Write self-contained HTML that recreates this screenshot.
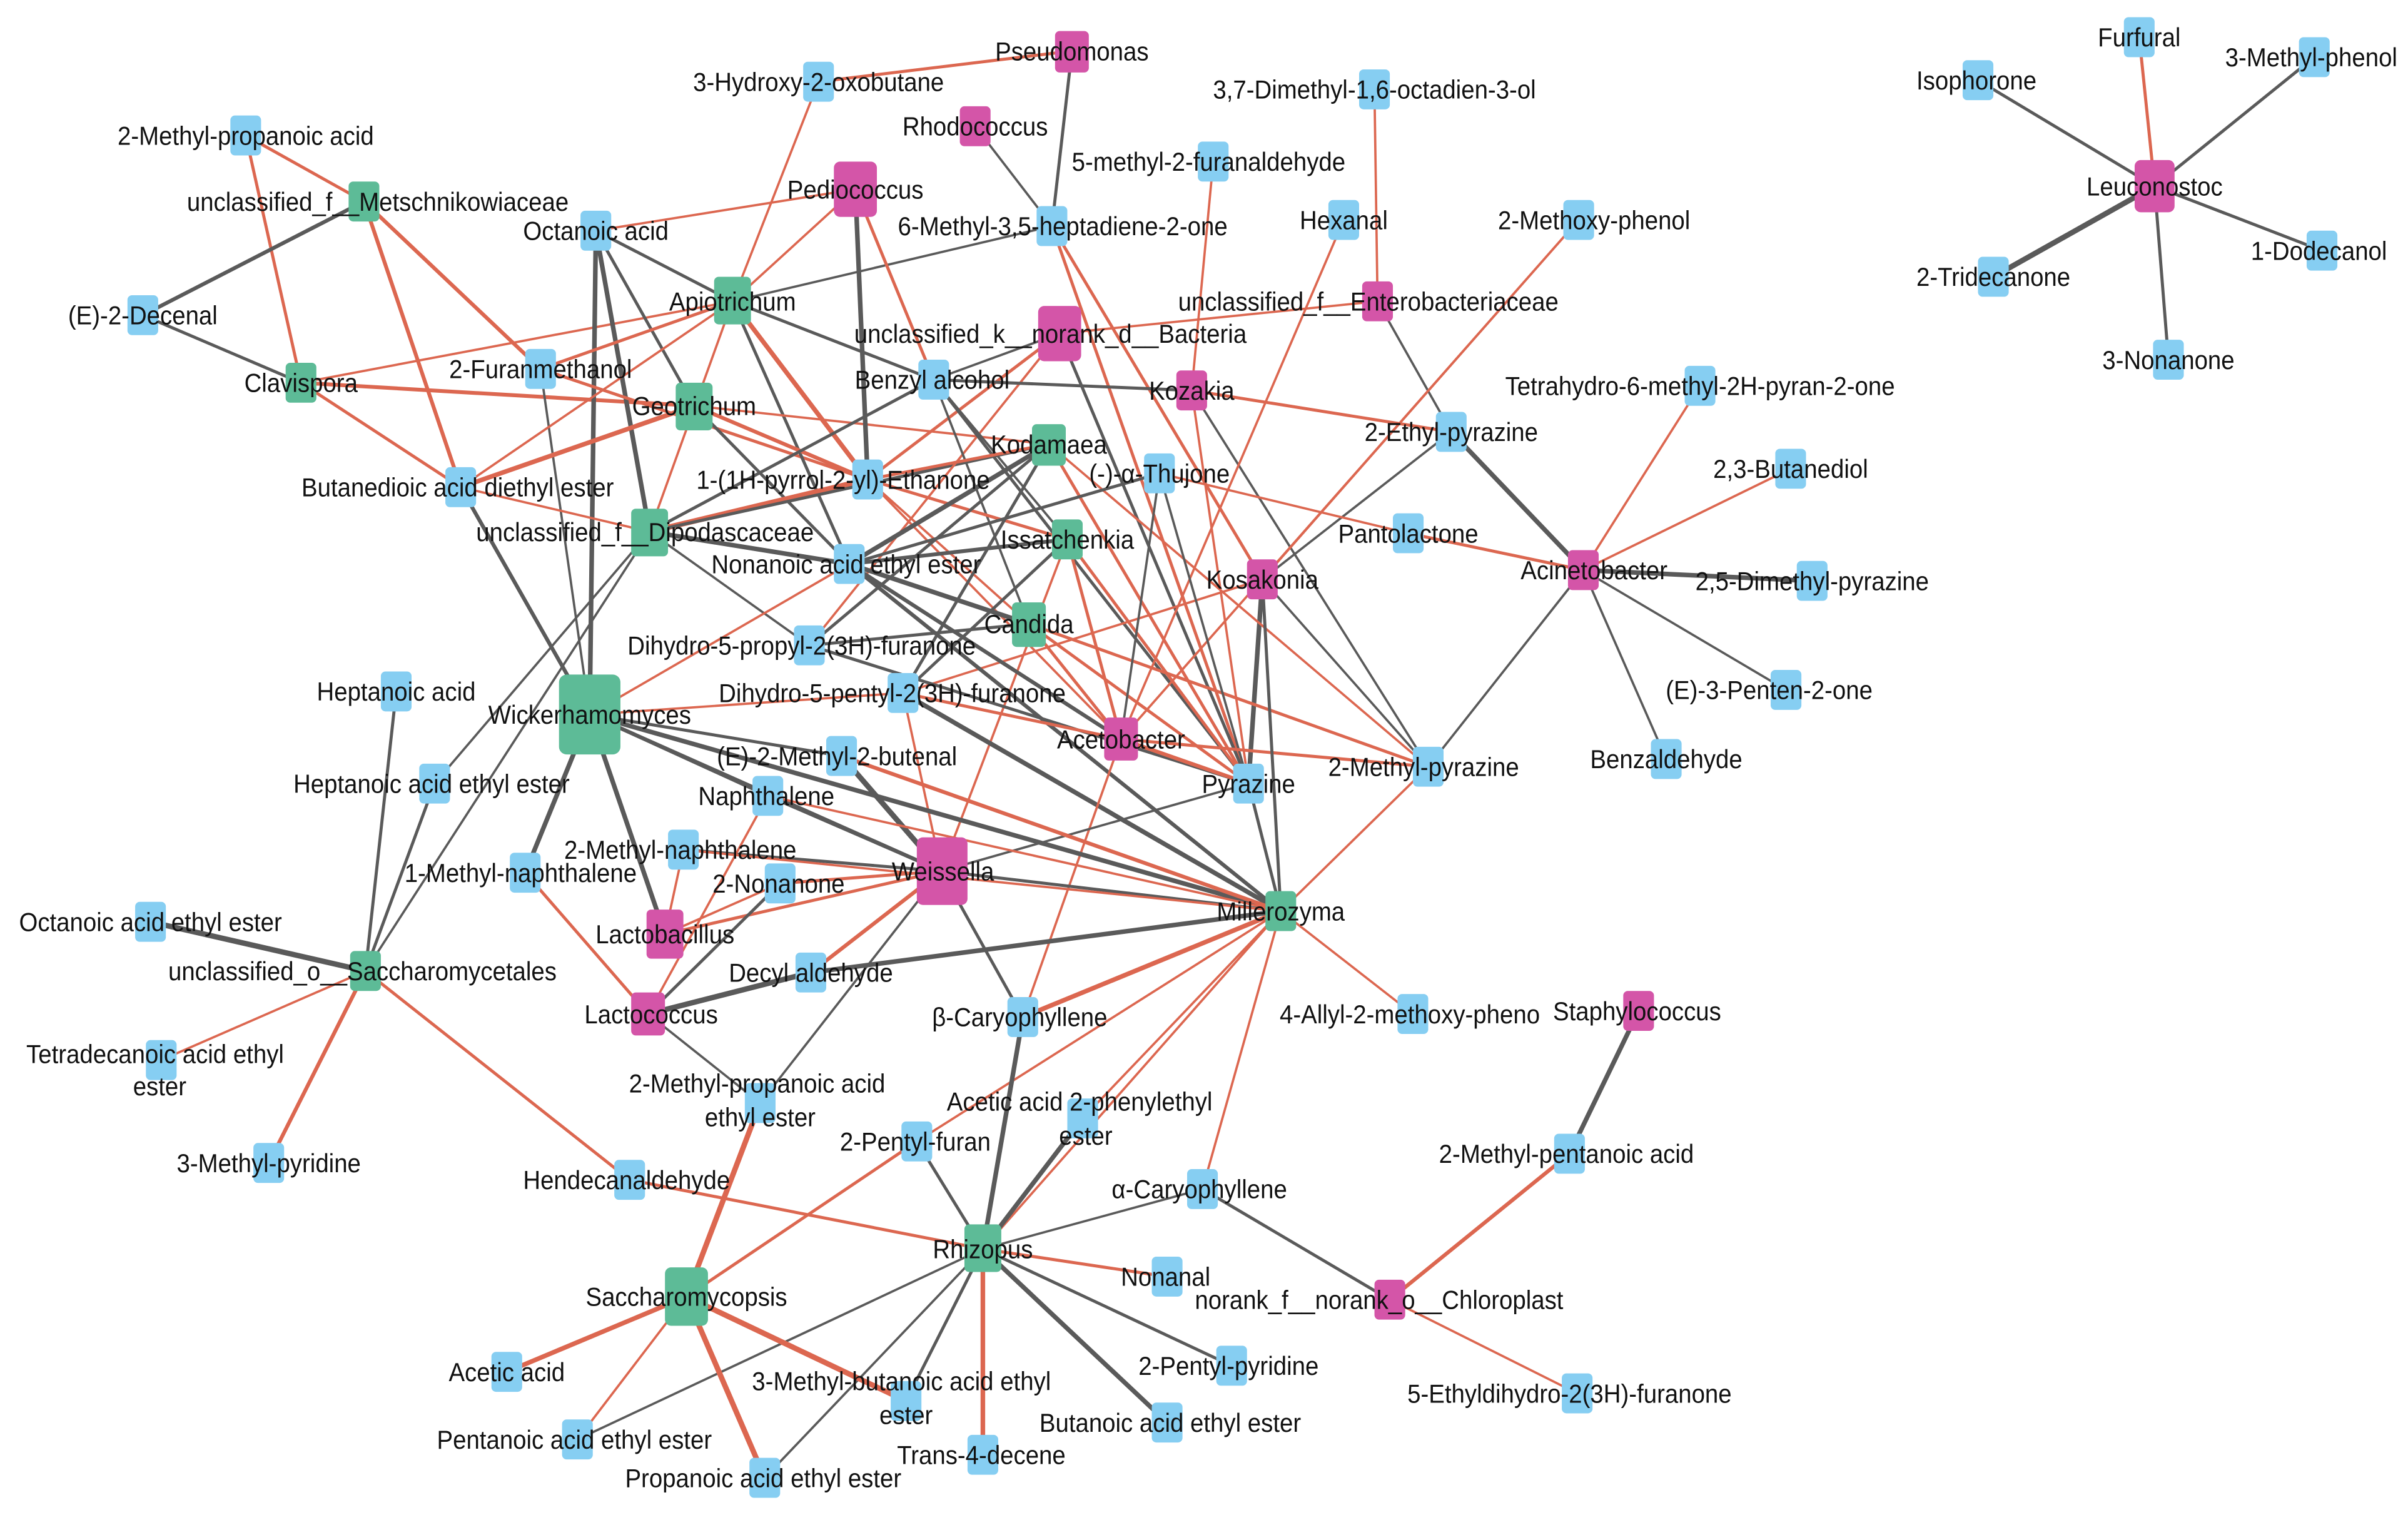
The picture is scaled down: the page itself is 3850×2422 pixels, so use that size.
<!DOCTYPE html>
<html><head><meta charset="utf-8"><style>
html,body{margin:0;padding:0;background:#fff;}
svg{display:block;}
text{font-family:"Liberation Sans",Arial,sans-serif;font-size:17px;fill:#111;text-anchor:middle;}
.g{stroke:#5a5a5a;fill:none}
.r{stroke:#dc6750;fill:none}
.b{fill:#86cef2}.gr{fill:#5dbb97}.p{fill:#d455a8}
</style></head><body>
<svg width="3850" height="2422" viewBox="0 0 1568 986" xmlns="http://www.w3.org/2000/svg">
<g stroke-linecap="round">
<line class="r" stroke-width="2" x1="160" y1="88" x2="237" y2="131"/>
<line class="r" stroke-width="2" x1="160" y1="88" x2="196" y2="249"/>
<line class="g" stroke-width="2.5" x1="93" y1="205" x2="237" y2="131"/>
<line class="g" stroke-width="2" x1="93" y1="205" x2="196" y2="249"/>
<line class="r" stroke-width="2.5" x1="237" y1="131" x2="352" y2="240"/>
<line class="r" stroke-width="2.5" x1="237" y1="131" x2="300" y2="317"/>
<line class="r" stroke-width="2" x1="196" y1="249" x2="300" y2="317"/>
<line class="r" stroke-width="2.5" x1="196" y1="249" x2="452" y2="264"/>
<line class="r" stroke-width="1.5" x1="196" y1="249" x2="477" y2="196"/>
<line class="r" stroke-width="1.5" x1="388" y1="150" x2="557" y2="123"/>
<line class="g" stroke-width="2" x1="388" y1="150" x2="477" y2="196"/>
<line class="g" stroke-width="2" x1="388" y1="150" x2="452" y2="264"/>
<line class="g" stroke-width="3" x1="388" y1="150" x2="423" y2="346"/>
<line class="g" stroke-width="3" x1="388" y1="150" x2="384" y2="465"/>
<line class="r" stroke-width="2" x1="352" y1="240" x2="477" y2="196"/>
<line class="g" stroke-width="1.5" x1="352" y1="240" x2="384" y2="465"/>
<line class="r" stroke-width="2" x1="352" y1="240" x2="565" y2="312"/>
<line class="r" stroke-width="1.5" x1="300" y1="317" x2="477" y2="196"/>
<line class="r" stroke-width="3" x1="300" y1="317" x2="452" y2="264"/>
<line class="r" stroke-width="1.5" x1="300" y1="317" x2="423" y2="346"/>
<line class="g" stroke-width="2.5" x1="300" y1="317" x2="384" y2="465"/>
<line class="r" stroke-width="1.5" x1="477" y1="196" x2="533" y2="53"/>
<line class="r" stroke-width="1.5" x1="477" y1="196" x2="557" y2="123"/>
<line class="g" stroke-width="1.5" x1="477" y1="196" x2="685" y2="147"/>
<line class="g" stroke-width="2" x1="477" y1="196" x2="608" y2="247"/>
<line class="r" stroke-width="3" x1="477" y1="196" x2="565" y2="312"/>
<line class="g" stroke-width="2" x1="477" y1="196" x2="553" y2="367"/>
<line class="r" stroke-width="1.5" x1="477" y1="196" x2="423" y2="346"/>
<line class="r" stroke-width="2.5" x1="452" y1="264" x2="565" y2="312"/>
<line class="g" stroke-width="2" x1="452" y1="264" x2="553" y2="367"/>
<line class="r" stroke-width="1.5" x1="452" y1="264" x2="683" y2="289"/>
<line class="r" stroke-width="3.5" x1="423" y1="346" x2="565" y2="312"/>
<line class="g" stroke-width="2" x1="423" y1="346" x2="608" y2="247"/>
<line class="g" stroke-width="3" x1="423" y1="346" x2="553" y2="367"/>
<line class="g" stroke-width="1.5" x1="423" y1="346" x2="527" y2="420"/>
<line class="g" stroke-width="1.5" x1="423" y1="346" x2="238" y2="632"/>
<line class="g" stroke-width="1.5" x1="423" y1="346" x2="283" y2="510"/>
<line class="g" stroke-width="2" x1="423" y1="346" x2="683" y2="289"/>
<line class="g" stroke-width="3" x1="557" y1="123" x2="565" y2="312"/>
<line class="r" stroke-width="2" x1="557" y1="123" x2="608" y2="247"/>
<line class="r" stroke-width="2" x1="698" y1="33" x2="533" y2="53"/>
<line class="g" stroke-width="2" x1="698" y1="33" x2="685" y2="147"/>
<line class="g" stroke-width="1.5" x1="635" y1="82" x2="685" y2="147"/>
<line class="r" stroke-width="2" x1="685" y1="147" x2="813" y2="510"/>
<line class="r" stroke-width="2" x1="685" y1="147" x2="822" y2="377"/>
<line class="g" stroke-width="2" x1="690" y1="217" x2="813" y2="510"/>
<line class="r" stroke-width="2" x1="690" y1="217" x2="565" y2="312"/>
<line class="g" stroke-width="1.5" x1="690" y1="217" x2="608" y2="247"/>
<line class="r" stroke-width="1.5" x1="690" y1="217" x2="527" y2="420"/>
<line class="g" stroke-width="2" x1="608" y1="247" x2="776" y2="254"/>
<line class="g" stroke-width="1.5" x1="608" y1="247" x2="695" y2="351"/>
<line class="g" stroke-width="1.5" x1="608" y1="247" x2="670" y2="406"/>
<line class="g" stroke-width="2" x1="608" y1="247" x2="813" y2="510"/>
<line class="r" stroke-width="2" x1="565" y1="312" x2="683" y2="289"/>
<line class="r" stroke-width="2" x1="565" y1="312" x2="695" y2="351"/>
<line class="r" stroke-width="1.5" x1="565" y1="312" x2="670" y2="406"/>
<line class="r" stroke-width="1.5" x1="565" y1="312" x2="730" y2="481"/>
<line class="r" stroke-width="1.5" x1="776" y1="254" x2="790" y2="105"/>
<line class="r" stroke-width="2" x1="776" y1="254" x2="945" y2="281"/>
<line class="g" stroke-width="1.5" x1="776" y1="254" x2="930" y2="499"/>
<line class="r" stroke-width="1.5" x1="776" y1="254" x2="813" y2="510"/>
<line class="r" stroke-width="1.5" x1="897" y1="196" x2="895" y2="58"/>
<line class="r" stroke-width="1.5" x1="875" y1="143" x2="730" y2="481"/>
<line class="r" stroke-width="1.5" x1="1028" y1="143" x2="822" y2="377"/>
<line class="r" stroke-width="1.5" x1="897" y1="196" x2="690" y2="217"/>
<line class="g" stroke-width="1.5" x1="897" y1="196" x2="945" y2="281"/>
<line class="r" stroke-width="1.5" x1="1028" y1="143" x2="730" y2="481"/>
<line class="g" stroke-width="3" x1="822" y1="377" x2="813" y2="510"/>
<line class="g" stroke-width="1.5" x1="822" y1="377" x2="930" y2="499"/>
<line class="g" stroke-width="1.5" x1="822" y1="377" x2="945" y2="281"/>
<line class="r" stroke-width="1.5" x1="822" y1="377" x2="588" y2="451"/>
<line class="r" stroke-width="2" x1="1031" y1="371" x2="917" y2="347"/>
<line class="g" stroke-width="3" x1="1031" y1="371" x2="1180" y2="378"/>
<line class="r" stroke-width="1.5" x1="1031" y1="371" x2="1107" y2="251"/>
<line class="r" stroke-width="1.5" x1="1031" y1="371" x2="1166" y2="305"/>
<line class="g" stroke-width="1.5" x1="1031" y1="371" x2="1163" y2="449"/>
<line class="g" stroke-width="1.5" x1="1031" y1="371" x2="1085" y2="494"/>
<line class="g" stroke-width="3" x1="1031" y1="371" x2="945" y2="281"/>
<line class="g" stroke-width="1.5" x1="1031" y1="371" x2="930" y2="499"/>
<line class="r" stroke-width="1.5" x1="917" y1="347" x2="755" y2="308"/>
<line class="r" stroke-width="2" x1="683" y1="289" x2="813" y2="510"/>
<line class="r" stroke-width="1.5" x1="683" y1="289" x2="930" y2="499"/>
<line class="g" stroke-width="3" x1="683" y1="289" x2="553" y2="367"/>
<line class="g" stroke-width="2" x1="683" y1="289" x2="588" y2="451"/>
<line class="g" stroke-width="2" x1="683" y1="289" x2="527" y2="420"/>
<line class="r" stroke-width="2" x1="695" y1="351" x2="730" y2="481"/>
<line class="r" stroke-width="2" x1="695" y1="351" x2="813" y2="510"/>
<line class="g" stroke-width="2.5" x1="695" y1="351" x2="553" y2="367"/>
<line class="g" stroke-width="2" x1="695" y1="351" x2="588" y2="451"/>
<line class="r" stroke-width="1.5" x1="695" y1="351" x2="613" y2="567"/>
<line class="g" stroke-width="3" x1="670" y1="406" x2="553" y2="367"/>
<line class="g" stroke-width="2" x1="670" y1="406" x2="527" y2="420"/>
<line class="r" stroke-width="2" x1="670" y1="406" x2="813" y2="510"/>
<line class="r" stroke-width="2" x1="670" y1="406" x2="930" y2="499"/>
<line class="r" stroke-width="2" x1="670" y1="406" x2="730" y2="481"/>
<line class="g" stroke-width="1.5" x1="755" y1="308" x2="813" y2="510"/>
<line class="g" stroke-width="1.5" x1="755" y1="308" x2="730" y2="481"/>
<line class="g" stroke-width="2" x1="755" y1="308" x2="553" y2="367"/>
<line class="g" stroke-width="2.5" x1="553" y1="367" x2="730" y2="481"/>
<line class="g" stroke-width="2.5" x1="553" y1="367" x2="834" y2="593"/>
<line class="r" stroke-width="1.5" x1="553" y1="367" x2="384" y2="465"/>
<line class="g" stroke-width="2" x1="527" y1="420" x2="813" y2="510"/>
<line class="r" stroke-width="2" x1="588" y1="451" x2="730" y2="481"/>
<line class="g" stroke-width="3" x1="588" y1="451" x2="834" y2="593"/>
<line class="r" stroke-width="1.5" x1="588" y1="451" x2="384" y2="465"/>
<line class="r" stroke-width="1.5" x1="588" y1="451" x2="613" y2="567"/>
<line class="r" stroke-width="2.5" x1="730" y1="481" x2="813" y2="510"/>
<line class="r" stroke-width="1.5" x1="730" y1="481" x2="666" y2="662"/>
<line class="r" stroke-width="2" x1="730" y1="481" x2="930" y2="499"/>
<line class="g" stroke-width="3" x1="384" y1="465" x2="433" y2="608"/>
<line class="g" stroke-width="2" x1="384" y1="465" x2="500" y2="518"/>
<line class="g" stroke-width="3" x1="384" y1="465" x2="342" y2="568"/>
<line class="g" stroke-width="2.5" x1="384" y1="465" x2="613" y2="567"/>
<line class="g" stroke-width="3" x1="384" y1="465" x2="834" y2="593"/>
<line class="g" stroke-width="2" x1="384" y1="465" x2="548" y2="492"/>
<line class="g" stroke-width="3.5" x1="613" y1="567" x2="548" y2="492"/>
<line class="g" stroke-width="2" x1="613" y1="567" x2="500" y2="518"/>
<line class="r" stroke-width="2" x1="613" y1="567" x2="508" y2="575"/>
<line class="r" stroke-width="2.5" x1="613" y1="567" x2="528" y2="633"/>
<line class="g" stroke-width="2" x1="613" y1="567" x2="666" y2="662"/>
<line class="r" stroke-width="2" x1="613" y1="567" x2="433" y2="608"/>
<line class="g" stroke-width="2" x1="613" y1="567" x2="834" y2="593"/>
<line class="g" stroke-width="1.5" x1="613" y1="567" x2="813" y2="510"/>
<line class="g" stroke-width="1.5" x1="613" y1="567" x2="495" y2="718"/>
<line class="g" stroke-width="2" x1="613" y1="567" x2="445" y2="553"/>
<line class="g" stroke-width="3" x1="834" y1="593" x2="528" y2="633"/>
<line class="r" stroke-width="1.5" x1="834" y1="593" x2="500" y2="518"/>
<line class="r" stroke-width="1.5" x1="834" y1="593" x2="445" y2="553"/>
<line class="r" stroke-width="2.5" x1="834" y1="593" x2="548" y2="492"/>
<line class="r" stroke-width="3" x1="834" y1="593" x2="666" y2="662"/>
<line class="r" stroke-width="1.5" x1="834" y1="593" x2="705" y2="728"/>
<line class="r" stroke-width="1.5" x1="834" y1="593" x2="783" y2="774"/>
<line class="r" stroke-width="1.5" x1="834" y1="593" x2="920" y2="660"/>
<line class="r" stroke-width="1.5" x1="834" y1="593" x2="930" y2="499"/>
<line class="r" stroke-width="1.5" x1="834" y1="593" x2="640" y2="813"/>
<line class="g" stroke-width="2" x1="834" y1="593" x2="813" y2="510"/>
<line class="g" stroke-width="2" x1="834" y1="593" x2="822" y2="377"/>
<line class="r" stroke-width="1.5" x1="834" y1="593" x2="597" y2="743"/>
<line class="r" stroke-width="1.5" x1="433" y1="608" x2="508" y2="575"/>
<line class="r" stroke-width="1.5" x1="433" y1="608" x2="445" y2="553"/>
<line class="g" stroke-width="3.5" x1="422" y1="660" x2="528" y2="633"/>
<line class="r" stroke-width="2" x1="422" y1="660" x2="342" y2="568"/>
<line class="g" stroke-width="2" x1="422" y1="660" x2="508" y2="575"/>
<line class="r" stroke-width="1.5" x1="422" y1="660" x2="500" y2="518"/>
<line class="g" stroke-width="3.5" x1="238" y1="632" x2="98" y2="600"/>
<line class="r" stroke-width="1.5" x1="238" y1="632" x2="105" y2="690"/>
<line class="r" stroke-width="2.5" x1="238" y1="632" x2="175" y2="757"/>
<line class="g" stroke-width="2" x1="238" y1="632" x2="258" y2="450"/>
<line class="g" stroke-width="2" x1="238" y1="632" x2="283" y2="510"/>
<line class="r" stroke-width="2" x1="238" y1="632" x2="410" y2="768"/>
<line class="r" stroke-width="2" x1="410" y1="768" x2="640" y2="813"/>
<line class="g" stroke-width="3" x1="640" y1="813" x2="666" y2="662"/>
<line class="g" stroke-width="2" x1="640" y1="813" x2="597" y2="743"/>
<line class="g" stroke-width="3" x1="640" y1="813" x2="705" y2="728"/>
<line class="g" stroke-width="1.5" x1="640" y1="813" x2="783" y2="774"/>
<line class="r" stroke-width="2" x1="640" y1="813" x2="760" y2="831"/>
<line class="g" stroke-width="2" x1="640" y1="813" x2="802" y2="889"/>
<line class="g" stroke-width="3" x1="640" y1="813" x2="760" y2="926"/>
<line class="r" stroke-width="3" x1="640" y1="813" x2="640" y2="947"/>
<line class="g" stroke-width="2" x1="640" y1="813" x2="590" y2="912"/>
<line class="g" stroke-width="1.5" x1="640" y1="813" x2="498" y2="962"/>
<line class="g" stroke-width="1.5" x1="640" y1="813" x2="376" y2="937"/>
<line class="g" stroke-width="1.5" x1="495" y1="718" x2="422" y2="660"/>
<line class="r" stroke-width="3" x1="447" y1="844" x2="330" y2="893"/>
<line class="r" stroke-width="1.5" x1="447" y1="844" x2="376" y2="937"/>
<line class="r" stroke-width="3.5" x1="447" y1="844" x2="498" y2="962"/>
<line class="r" stroke-width="3.5" x1="447" y1="844" x2="590" y2="912"/>
<line class="r" stroke-width="2" x1="447" y1="844" x2="597" y2="743"/>
<line class="r" stroke-width="3.5" x1="447" y1="844" x2="495" y2="718"/>
<line class="g" stroke-width="2" x1="905" y1="846" x2="783" y2="774"/>
<line class="r" stroke-width="2.5" x1="905" y1="846" x2="1022" y2="751"/>
<line class="r" stroke-width="1.5" x1="905" y1="846" x2="1027" y2="907"/>
<line class="g" stroke-width="3" x1="1067" y1="658" x2="1022" y2="751"/>
<line class="r" stroke-width="2" x1="1403" y1="121" x2="1393" y2="24"/>
<line class="g" stroke-width="2" x1="1403" y1="121" x2="1288" y2="52"/>
<line class="g" stroke-width="2" x1="1403" y1="121" x2="1507" y2="37"/>
<line class="g" stroke-width="3.5" x1="1403" y1="121" x2="1298" y2="180"/>
<line class="g" stroke-width="2" x1="1403" y1="121" x2="1512" y2="163"/>
<line class="g" stroke-width="2" x1="1403" y1="121" x2="1412" y2="234"/>
</g>
<g>
<g class="b">
<rect x="150" y="75" width="20" height="26" rx="3"/>
<rect x="378" y="137" width="20" height="26" rx="3"/>
<rect x="83" y="192" width="20" height="26" rx="3"/>
<rect x="342" y="227" width="20" height="26" rx="3"/>
<rect x="290" y="304" width="20" height="26" rx="3"/>
<rect x="523" y="40" width="20" height="26" rx="3"/>
<rect x="885" y="45" width="20" height="26" rx="3"/>
<rect x="780" y="92" width="20" height="26" rx="3"/>
<rect x="675" y="134" width="20" height="26" rx="3"/>
<rect x="865" y="130" width="20" height="26" rx="3"/>
<rect x="1018" y="130" width="20" height="26" rx="3"/>
<rect x="598" y="234" width="20" height="26" rx="3"/>
<rect x="555" y="299" width="20" height="26" rx="3"/>
<rect x="745" y="295" width="20" height="26" rx="3"/>
<rect x="935" y="268" width="20" height="26" rx="3"/>
<rect x="1097" y="238" width="20" height="26" rx="3"/>
<rect x="1156" y="292" width="20" height="26" rx="3"/>
<rect x="907" y="334" width="20" height="26" rx="3"/>
<rect x="1170" y="365" width="20" height="26" rx="3"/>
<rect x="543" y="354" width="20" height="26" rx="3"/>
<rect x="517" y="407" width="20" height="26" rx="3"/>
<rect x="578" y="438" width="20" height="26" rx="3"/>
<rect x="1153" y="436" width="20" height="26" rx="3"/>
<rect x="248" y="437" width="20" height="26" rx="3"/>
<rect x="1075" y="481" width="20" height="26" rx="3"/>
<rect x="273" y="497" width="20" height="26" rx="3"/>
<rect x="538" y="479" width="20" height="26" rx="3"/>
<rect x="490" y="505" width="20" height="26" rx="3"/>
<rect x="803" y="497" width="20" height="26" rx="3"/>
<rect x="920" y="486" width="20" height="26" rx="3"/>
<rect x="435" y="540" width="20" height="26" rx="3"/>
<rect x="332" y="555" width="20" height="26" rx="3"/>
<rect x="498" y="562" width="20" height="26" rx="3"/>
<rect x="88" y="587" width="20" height="26" rx="3"/>
<rect x="518" y="620" width="20" height="26" rx="3"/>
<rect x="656" y="649" width="20" height="26" rx="3"/>
<rect x="910" y="647" width="20" height="26" rx="3"/>
<rect x="95" y="677" width="20" height="26" rx="3"/>
<rect x="485" y="705" width="20" height="26" rx="3"/>
<rect x="695" y="715" width="20" height="26" rx="3"/>
<rect x="1012" y="738" width="20" height="26" rx="3"/>
<rect x="165" y="744" width="20" height="26" rx="3"/>
<rect x="400" y="755" width="20" height="26" rx="3"/>
<rect x="587" y="730" width="20" height="26" rx="3"/>
<rect x="773" y="761" width="20" height="26" rx="3"/>
<rect x="750" y="818" width="20" height="26" rx="3"/>
<rect x="792" y="876" width="20" height="26" rx="3"/>
<rect x="320" y="880" width="20" height="26" rx="3"/>
<rect x="1017" y="894" width="20" height="26" rx="3"/>
<rect x="580" y="899" width="20" height="26" rx="3"/>
<rect x="750" y="913" width="20" height="26" rx="3"/>
<rect x="366" y="924" width="20" height="26" rx="3"/>
<rect x="630" y="934" width="20" height="26" rx="3"/>
<rect x="488" y="949" width="20" height="26" rx="3"/>
<rect x="1278" y="39" width="20" height="26" rx="3"/>
<rect x="1383" y="11" width="20" height="26" rx="3"/>
<rect x="1497" y="24" width="20" height="26" rx="3"/>
<rect x="1288" y="167" width="20" height="26" rx="3"/>
<rect x="1502" y="150" width="20" height="26" rx="3"/>
<rect x="1402" y="221" width="20" height="26" rx="3"/>
</g>
<g class="gr">
<rect x="227" y="118" width="20" height="26" rx="3"/>
<rect x="186" y="236" width="20" height="26" rx="3"/>
<rect x="465" y="180" width="24" height="31" rx="3"/>
<rect x="440" y="249" width="24" height="31" rx="3"/>
<rect x="672" y="276" width="22" height="27" rx="3"/>
<rect x="411" y="331" width="24" height="31" rx="3"/>
<rect x="685" y="338" width="20" height="26" rx="3"/>
<rect x="659" y="392" width="22" height="29" rx="3"/>
<rect x="364" y="439" width="40" height="52" rx="5"/>
<rect x="824" y="580" width="20" height="26" rx="3"/>
<rect x="228" y="619" width="20" height="26" rx="3"/>
<rect x="628" y="797" width="24" height="31" rx="3"/>
<rect x="433" y="825" width="28" height="38" rx="4"/>
</g>
<g class="p">
<rect x="687" y="20" width="22" height="27" rx="3"/>
<rect x="625" y="69" width="20" height="26" rx="3"/>
<rect x="543" y="105" width="28" height="36" rx="4"/>
<rect x="676" y="199" width="28" height="36" rx="4"/>
<rect x="766" y="241" width="20" height="26" rx="3"/>
<rect x="887" y="183" width="20" height="26" rx="3"/>
<rect x="812" y="364" width="20" height="26" rx="3"/>
<rect x="1021" y="358" width="20" height="26" rx="3"/>
<rect x="719" y="467" width="22" height="28" rx="3"/>
<rect x="597" y="545" width="33" height="44" rx="4"/>
<rect x="421" y="592" width="24" height="32" rx="3"/>
<rect x="411" y="646" width="22" height="28" rx="3"/>
<rect x="1057" y="645" width="20" height="26" rx="3"/>
<rect x="895" y="833" width="20" height="26" rx="3"/>
<rect x="1390" y="104" width="26" height="34" rx="4"/>
</g>
</g>
<g>
<text transform="translate(160,94) scale(.92,1)">2-Methyl-propanoic acid</text>
<text transform="translate(246,137) scale(.92,1)">unclassified_f__Metschnikowiaceae</text>
<text transform="translate(388,156) scale(.92,1)">Octanoic acid</text>
<text transform="translate(93,211) scale(.92,1)">(E)-2-Decenal</text>
<text transform="translate(196,255) scale(.92,1)">Clavispora</text>
<text transform="translate(352,246) scale(.92,1)">2-Furanmethanol</text>
<text transform="translate(298,323) scale(.92,1)">Butanedioic acid diethyl ester</text>
<text transform="translate(533,59) scale(.92,1)">3-Hydroxy-2-oxobutane</text>
<text transform="translate(698,39) scale(.92,1)">Pseudomonas</text>
<text transform="translate(635,88) scale(.92,1)">Rhodococcus</text>
<text transform="translate(557,129) scale(.92,1)">Pediococcus</text>
<text transform="translate(895,64) scale(.92,1)">3,7-Dimethyl-1,6-octadien-3-ol</text>
<text transform="translate(787,111) scale(.92,1)">5-methyl-2-furanaldehyde</text>
<text transform="translate(692,153) scale(.92,1)">6-Methyl-3,5-heptadiene-2-one</text>
<text transform="translate(875,149) scale(.92,1)">Hexanal</text>
<text transform="translate(1038,149) scale(.92,1)">2-Methoxy-phenol</text>
<text transform="translate(891,202) scale(.92,1)">unclassified_f__Enterobacteriaceae</text>
<text transform="translate(477,202) scale(.92,1)">Apiotrichum</text>
<text transform="translate(684,223) scale(.92,1)">unclassified_k__norank_d__Bacteria</text>
<text transform="translate(607,253) scale(.92,1)">Benzyl alcohol</text>
<text transform="translate(776,260) scale(.92,1)">Kozakia</text>
<text transform="translate(452,270) scale(.92,1)">Geotrichum</text>
<text transform="translate(945,287) scale(.92,1)">2-Ethyl-pyrazine</text>
<text transform="translate(1107,257) scale(.92,1)">Tetrahydro-6-methyl-2H-pyran-2-one</text>
<text transform="translate(1166,311) scale(.92,1)">2,3-Butanediol</text>
<text transform="translate(683,295) scale(.92,1)">Kodamaea</text>
<text transform="translate(549,318) scale(.92,1)">1-(1H-pyrrol-2-yl)-Ethanone</text>
<text transform="translate(755,314) scale(.92,1)">(-)-α-Thujone</text>
<text transform="translate(420,352) scale(.92,1)">unclassified_f__Dipodascaceae</text>
<text transform="translate(917,353) scale(.92,1)">Pantolactone</text>
<text transform="translate(695,357) scale(.92,1)">Issatchenkia</text>
<text transform="translate(551,373) scale(.92,1)">Nonanoic acid ethyl ester</text>
<text transform="translate(822,383) scale(.92,1)">Kosakonia</text>
<text transform="translate(1038,377) scale(.92,1)">Acinetobacter</text>
<text transform="translate(1180,384) scale(.92,1)">2,5-Dimethyl-pyrazine</text>
<text transform="translate(670,412) scale(.92,1)">Candida</text>
<text transform="translate(522,426) scale(.92,1)">Dihydro-5-propyl-2(3H)-furanone</text>
<text transform="translate(581,457) scale(.92,1)">Dihydro-5-pentyl-2(3H)-furanone</text>
<text transform="translate(1152,455) scale(.92,1)">(E)-3-Penten-2-one</text>
<text transform="translate(258,456) scale(.92,1)">Heptanoic acid</text>
<text transform="translate(384,471) scale(.92,1)">Wickerhamomyces</text>
<text transform="translate(730,487) scale(.92,1)">Acetobacter</text>
<text transform="translate(1085,500) scale(.92,1)">Benzaldehyde</text>
<text transform="translate(281,516) scale(.92,1)">Heptanoic acid ethyl ester</text>
<text transform="translate(545,498) scale(.92,1)">(E)-2-Methyl-2-butenal</text>
<text transform="translate(813,516) scale(.92,1)">Pyrazine</text>
<text transform="translate(927,505) scale(.92,1)">2-Methyl-pyrazine</text>
<text transform="translate(499,524) scale(.92,1)">Naphthalene</text>
<text transform="translate(443,559) scale(.92,1)">2-Methyl-naphthalene</text>
<text transform="translate(339,574) scale(.92,1)">1-Methyl-naphthalene</text>
<text transform="translate(507,581) scale(.92,1)">2-Nonanone</text>
<text transform="translate(614,573) scale(.92,1)">Weissella</text>
<text transform="translate(98,606) scale(.92,1)">Octanoic acid ethyl ester</text>
<text transform="translate(834,599) scale(.92,1)">Millerozyma</text>
<text transform="translate(433,614) scale(.92,1)">Lactobacillus</text>
<text transform="translate(236,638) scale(.92,1)">unclassified_o__Saccharomycetales</text>
<text transform="translate(528,639) scale(.92,1)">Decyl aldehyde</text>
<text transform="translate(424,666) scale(.92,1)">Lactococcus</text>
<text transform="translate(664,668) scale(.92,1)">β-Caryophyllene</text>
<text transform="translate(918,666) scale(.92,1)">4-Allyl-2-methoxy-pheno</text>
<text transform="translate(1066,664) scale(.92,1)">Staphylococcus</text>
<text transform="translate(101,692) scale(.92,1)">Tetradecanoic acid ethyl</text>
<text transform="translate(104,713) scale(.92,1)">ester</text>
<text transform="translate(493,711) scale(.92,1)">2-Methyl-propanoic acid</text>
<text transform="translate(495,733) scale(.92,1)">ethyl ester</text>
<text transform="translate(703,723) scale(.92,1)">Acetic acid 2-phenylethyl</text>
<text transform="translate(707,745) scale(.92,1)">ester</text>
<text transform="translate(1020,757) scale(.92,1)">2-Methyl-pentanoic acid</text>
<text transform="translate(596,749) scale(.92,1)">2-Pentyl-furan</text>
<text transform="translate(175,763) scale(.92,1)">3-Methyl-pyridine</text>
<text transform="translate(408,774) scale(.92,1)">Hendecanaldehyde</text>
<text transform="translate(781,780) scale(.92,1)">α-Caryophyllene</text>
<text transform="translate(640,819) scale(.92,1)">Rhizopus</text>
<text transform="translate(759,837) scale(.92,1)">Nonanal</text>
<text transform="translate(898,852) scale(.92,1)">norank_f__norank_o__Chloroplast</text>
<text transform="translate(447,850) scale(.92,1)">Saccharomycopsis</text>
<text transform="translate(800,895) scale(.92,1)">2-Pentyl-pyridine</text>
<text transform="translate(330,899) scale(.92,1)">Acetic acid</text>
<text transform="translate(587,905) scale(.92,1)">3-Methyl-butanoic acid ethyl</text>
<text transform="translate(590,927) scale(.92,1)">ester</text>
<text transform="translate(1022,913) scale(.92,1)">5-Ethyldihydro-2(3H)-furanone</text>
<text transform="translate(762,932) scale(.92,1)">Butanoic acid ethyl ester</text>
<text transform="translate(374,943) scale(.92,1)">Pentanoic acid ethyl ester</text>
<text transform="translate(639,953) scale(.92,1)">Trans-4-decene</text>
<text transform="translate(497,968) scale(.92,1)">Propanoic acid ethyl ester</text>
<text transform="translate(1287,58) scale(.92,1)">Isophorone</text>
<text transform="translate(1393,30) scale(.92,1)">Furfural</text>
<text transform="translate(1505,43) scale(.92,1)">3-Methyl-phenol</text>
<text transform="translate(1403,127) scale(.92,1)">Leuconostoc</text>
<text transform="translate(1298,186) scale(.92,1)">2-Tridecanone</text>
<text transform="translate(1510,169) scale(.92,1)">1-Dodecanol</text>
<text transform="translate(1412,240) scale(.92,1)">3-Nonanone</text>
</g>
</svg>
</body></html>
